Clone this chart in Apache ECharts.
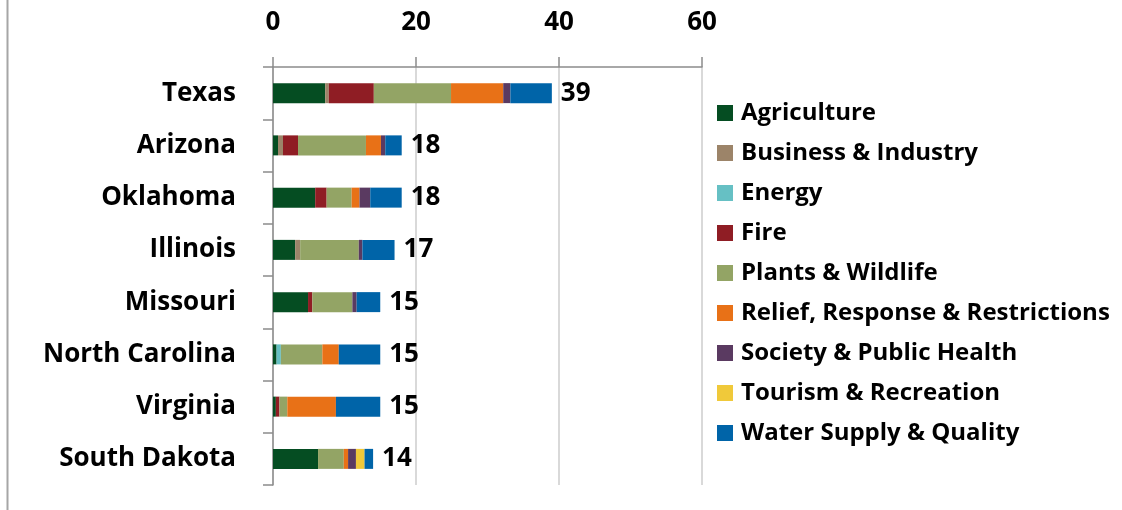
<!DOCTYPE html>
<html>
<head>
<meta charset="utf-8">
<script src="https://cdn.jsdelivr.net/npm/echarts@6/dist/echarts.min.js"></script>
<style>
html,body{margin:0;padding:0;background:#fff;}
#chart{width:1122px;height:510px;}
</style>
</head>
<body>
<div id="chart"></div>
<script>
const states = ["Texas","Arizona","Oklahoma","Illinois","Missouri","North Carolina","Virginia","South Dakota"];
const totals = [39, 18, 18, 17, 15, 15, 15, 14];
const seriesNames = ["Agriculture","Business & Industry","Energy","Fire","Plants & Wildlife","Relief, Response & Restrictions","Society & Public Health","Tourism & Recreation","Water Supply & Quality"];
const agriculture = [7.3, 0.7, 5.9, 3.1, 4.9, 0.5, 0.4, 6.3];
const business    = [0.5, 0.7, 0,   0.7, 0,   0,   0,   0  ];
const energy      = [0,   0,   0,   0,   0,   0.6, 0,   0  ];
const fire        = [6.3, 2.1, 1.6, 0,   0.6, 0,   0.5, 0  ];
const plants      = [10.8,9.5, 3.5, 8.2, 5.6, 5.8, 1.1, 3.6];
const relief      = [7.3, 2.1, 1.1, 0,   0,   2.3, 6.8, 0.6];
const society     = [1.0, 0.6, 1.5, 0.5, 0.6, 0,   0,   1.1];
const tourism     = [0,   0,   0,   0,   0,   0,   0,   1.2];
const water       = [5.8, 2.3, 4.4, 4.5, 3.3, 5.8, 6.2, 1.2];
const xTicks = [0, 20, 40, 60];

const colors = ["#054d22","#9c8469","#66c0c4","#8f1d24","#93a465","#e87117","#5a3a61","#f0c93a","#0064a8"];
const dataSets = [agriculture,business,energy,fire,plants,relief,society,tourism,water];
const FONT = "Open Sans";
const FS = 26;

const series = dataSets.map((d, i) => ({
  name: seriesNames[i],
  type: 'bar',
  stack: 'total',
  barWidth: 20,
  data: d,
  itemStyle: {color: colors[i]},
  label: i === dataSets.length - 1 ? {
    show: true, position: 'right', distance: 9,
    formatter: p => String(totals[p.dataIndex]),
    color: '#000', fontFamily: FONT, fontWeight: 'bold', fontSize: FS,
    padding: [5, 0, 0, 0]
  } : {show: false},
  emphasis: {disabled: true}
}));

const chart = echarts.init(document.getElementById('chart'), null, {renderer: 'canvas'});
chart.setOption({
  animation: false,
  backgroundColor: '#fff',
  color: colors,
  grid: {left: 273, right: 420, top: 67, height: 418, containLabel: false},
  xAxis: {
    type: 'value', position: 'top', min: xTicks[0], max: xTicks[xTicks.length-1], interval: 20,
    axisLine: {show: true, lineStyle: {color: '#8c8c8c', width: 1.5}},
    axisTick: {show: true, length: 10, lineStyle: {color: '#8c8c8c', width: 1.5}},
    splitLine: {show: true, lineStyle: {color: '#d9d9d9', width: 2}},
    axisLabel: {margin: 31, color: '#000', fontFamily: FONT, fontWeight: 'bold', fontSize: FS}
  },
  yAxis: {
    type: 'category', data: states, inverse: true,
    axisLine: {show: true, lineStyle: {color: '#8c8c8c', width: 1.5}},
    axisTick: {show: true, length: 10, lineStyle: {color: '#8c8c8c', width: 1.5}},
    axisLabel: {margin: 37, color: '#000', fontFamily: FONT, fontWeight: 'bold', fontSize: FS, padding: [4, 0, 0, 0]}
  },
  legend: {
    orient: 'vertical', left: 712, top: 96,
    data: seriesNames,
    icon: 'rect', itemWidth: 16, itemHeight: 16, itemGap: 16,
    textStyle: {color: '#000', fontFamily: FONT, fontWeight: 'bold', fontSize: 24, padding: [0,0,0,3]},
    selectedMode: false
  },
  graphic: [{
    type: 'line', shape: {x1: 7.5, y1: 0, x2: 7.5, y2: 510},
    style: {stroke: '#a6a6a6', lineWidth: 2}
  }],
  series: series
});
</script>
</body>
</html>
